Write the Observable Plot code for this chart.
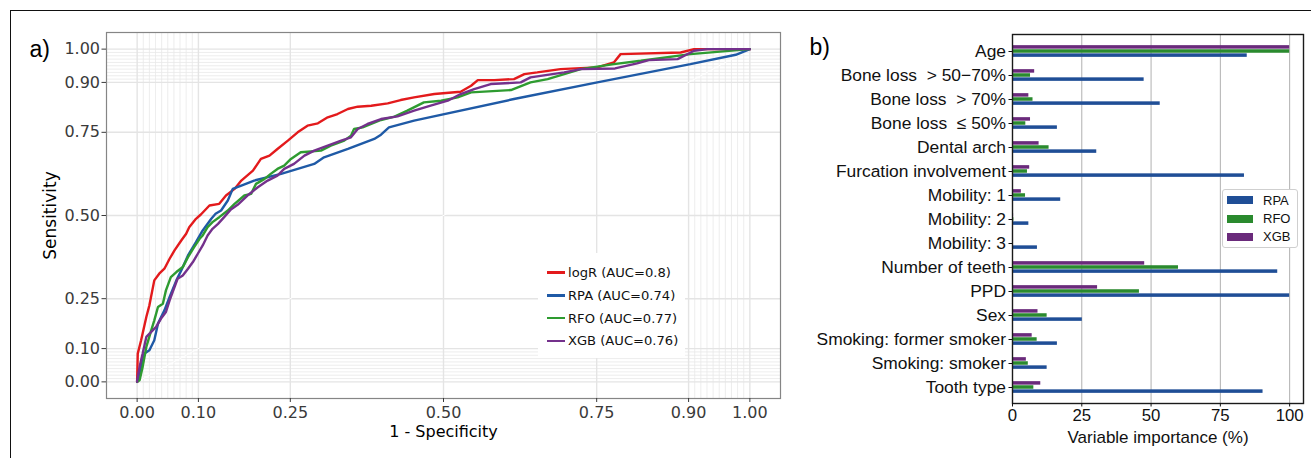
<!DOCTYPE html>
<html>
<head>
<meta charset="utf-8">
<script src="https://cdn.jsdelivr.net/npm/d3@7"></script>
<script src="https://cdn.jsdelivr.net/npm/@observablehq/plot@0.6"></script>
<style>
  body { margin: 0; background: #fff; }
  #wrap { position: relative; width: 1311px; height: 458px; overflow: hidden; background: #fff; }
  #border { position: absolute; left: 10px; top: 10px; width: 1320px; height: 470px; z-index: 5; pointer-events: none;
            border-top: 1.5px solid #111; border-left: 1.5px solid #111; }
  .panel { position: absolute; top: 0; }
  #pa { left: 0; }
  #pb { left: 790px; }
  .lega { position: absolute; left: 538px; top: 253px; width: 147px; height: 105px; background: #fff;
          font-family: 'DejaVu Sans', sans-serif; font-size: 13.1px; color: #111; }
  .lega .row { position: absolute; left: 9px; height: 20px; display: flex; align-items: center; }
  .lega .sw { width: 18px; height: 2.5px; margin-right: 3px; }
  .legb { position: absolute; left: 1222px; top: 189px; width: 74px; height: 57px; background: #fff;
          border: 1px solid #cfcfcf; border-radius: 3px;
          font-family: 'Liberation Sans', Arial, sans-serif; font-size: 13px; color: #111; }
  .legb .row { position: absolute; left: 4px; height: 16px; display: flex; align-items: center; }
  .legb .sw { width: 26px; height: 8px; margin-right: 10px; }
</style>
</head>
<body>
<div id="wrap">
  <div id="border"></div>
  <div id="pa" class="panel"></div>
  <div id="pb" class="panel"></div>
  <div class="lega" id="lega"></div>
  <div class="legb" id="legb"></div>
</div>
<script>
// ---------- Panel a: ROC curves (fpr = 1 - specificity, tpr = sensitivity) ----------
const rocModels = ["logR", "RPA", "RFO", "XGB"];
const rocLabels = ["logR (AUC=0.8)", "RPA (AUC=0.74)", "RFO (AUC=0.77)", "XGB (AUC=0.76)"];
const rocColors = ["#E31A1C", "#1F5AA6", "#2E9B30", "#74318C"];

const rocLogR = [[0,0],[0.001,0.085],[0.0065,0.125],[0.015,0.195],[0.02,0.23],[0.028,0.305],[0.036,0.325],[0.0445,0.34],[0.053,0.37],[0.061,0.395],[0.072,0.425],[0.08,0.445],[0.085,0.465],[0.096,0.49],[0.104,0.503],[0.118,0.53],[0.134,0.535],[0.145,0.56],[0.159,0.58],[0.17,0.605],[0.189,0.635],[0.202,0.67],[0.216,0.68],[0.229,0.7],[0.246,0.725],[0.262,0.75],[0.278,0.77],[0.295,0.777],[0.311,0.795],[0.327,0.805],[0.344,0.82],[0.36,0.827],[0.382,0.83],[0.409,0.837],[0.43,0.847],[0.452,0.855],[0.485,0.865],[0.528,0.872],[0.545,0.89],[0.556,0.907],[0.583,0.907],[0.615,0.91],[0.632,0.925],[0.653,0.93],[0.691,0.94],[0.724,0.943],[0.751,0.945],[0.778,0.96],[0.789,0.985],[0.887,0.99],[0.909,1],[1,1]];
const rocRPA = [[0,0],[0.001,0.005],[0.012,0.085],[0.02,0.095],[0.028,0.125],[0.034,0.175],[0.0445,0.215],[0.053,0.255],[0.064,0.305],[0.072,0.335],[0.083,0.38],[0.096,0.42],[0.107,0.455],[0.121,0.49],[0.128,0.505],[0.137,0.515],[0.148,0.545],[0.156,0.58],[0.17,0.59],[0.191,0.605],[0.235,0.625],[0.289,0.655],[0.305,0.675],[0.344,0.7],[0.387,0.73],[0.398,0.743],[0.411,0.765],[0.452,0.785],[0.615,0.85],[0.751,0.9],[0.903,0.955],[0.977,0.983],[1,1]];
const rocRFO = [[0,0],[0.004,0.005],[0.009,0.045],[0.015,0.105],[0.023,0.155],[0.028,0.185],[0.034,0.225],[0.042,0.235],[0.047,0.275],[0.055,0.315],[0.064,0.33],[0.0745,0.345],[0.083,0.375],[0.093,0.405],[0.102,0.43],[0.107,0.44],[0.115,0.465],[0.123,0.48],[0.134,0.495],[0.148,0.515],[0.159,0.535],[0.175,0.56],[0.186,0.565],[0.194,0.595],[0.208,0.61],[0.218,0.625],[0.229,0.64],[0.24,0.65],[0.251,0.67],[0.267,0.69],[0.3,0.695],[0.316,0.71],[0.338,0.725],[0.349,0.74],[0.354,0.76],[0.368,0.765],[0.382,0.775],[0.398,0.787],[0.42,0.797],[0.441,0.815],[0.468,0.84],[0.496,0.845],[0.523,0.855],[0.545,0.87],[0.61,0.877],[0.642,0.9],[0.67,0.91],[0.724,0.94],[0.778,0.955],[0.822,0.965],[0.903,0.985],[1,1]];
const rocXGB = [[0,0],[0,0.005],[0.004,0.045],[0.009,0.085],[0.015,0.135],[0.023,0.15],[0.031,0.165],[0.039,0.19],[0.047,0.21],[0.053,0.245],[0.061,0.285],[0.066,0.31],[0.0745,0.32],[0.083,0.34],[0.091,0.36],[0.099,0.385],[0.107,0.41],[0.115,0.44],[0.123,0.46],[0.132,0.475],[0.142,0.495],[0.153,0.518],[0.164,0.532],[0.18,0.56],[0.197,0.585],[0.213,0.605],[0.229,0.62],[0.24,0.64],[0.256,0.655],[0.273,0.68],[0.289,0.695],[0.311,0.71],[0.333,0.725],[0.349,0.735],[0.36,0.76],[0.376,0.775],[0.398,0.79],[0.425,0.798],[0.452,0.815],[0.479,0.83],[0.507,0.845],[0.528,0.865],[0.55,0.88],[0.577,0.895],[0.626,0.9],[0.642,0.915],[0.697,0.93],[0.724,0.94],[0.78,0.942],[0.816,0.957],[0.835,0.967],[0.882,0.97],[0.909,0.995],[0.931,1],[1,1]];

const rocTicks = [0, 0.1, 0.25, 0.5, 0.75, 0.9, 1];
const rocMinorGrid = [0.01,0.02,0.03,0.04,0.05,0.06,0.07,0.08,0.09,0.91,0.92,0.93,0.94,0.95,0.96,0.97,0.98,0.99];
const diagonal = [[0,0],[1,1]];

// ---------- Panel b: variable importance ----------
const categories = ["Age","Bone loss\u00A0 > 50\u221270%","Bone loss\u00A0 > 70%","Bone loss\u00A0 \u2264 50%","Dental arch","Furcation involvement","Mobility: 1","Mobility: 2","Mobility: 3","Number of teeth","PPD","Sex","Smoking: former smoker","Smoking: smoker","Tooth type"];
const impRPA = [84.7, 47.5, 53.3, 16.2, 30.4, 83.7, 17.4, 5.9, 9.0, 95.7, 100, 25.2, 16.2, 12.5, 90.4];
const impRFO = [100, 6.5, 7.4, 4.8, 13.2, 5.4, 4.7, 0.5, 0.2, 59.9, 45.8, 12.5, 8.9, 5.7, 7.7];
const impXGB = [100, 8.0, 5.9, 6.5, 9.6, 6.2, 3.2, 0.4, 0.1, 47.7, 30.7, 9.2, 7.1, 5.0, 10.2];
const impModels = ["RPA", "RFO", "XGB"];
const impColors = ["#1F4E96", "#2A8A2E", "#6A2A7B"];
const impTicks = [0, 25, 50, 75, 100];

// ---- build tables ----
const rocSeries = {logR: rocLogR, RPA: rocRPA, RFO: rocRFO, XGB: rocXGB};
const rocData = rocModels.flatMap(m => rocSeries[m].map(([f, t]) => ({model: m, fpr: f, tpr: t})));
const impData = categories.map((c, i) => ({category: c, RPA: impRPA[i], RFO: impRFO[i], XGB: impXGB[i]}));

const plotA = Plot.plot({
  width: 790, height: 458,
  marginLeft: 106, marginRight: 10, marginTop: 32, marginBottom: 60,
  x: {domain: [-0.05, 1.05]},
  y: {domain: [-0.05, 1.05]},
  color: {domain: rocModels, range: rocColors},
  style: {fontFamily: "'DejaVu Sans', sans-serif", fontSize: "16px", color: "#3a3a3a", background: "transparent", overflow: "visible"},
  marks: [
    Plot.ruleX(rocMinorGrid, {stroke: "#e9e9e9", strokeWidth: 0.8}),
    Plot.ruleY(rocMinorGrid, {stroke: "#e9e9e9", strokeWidth: 0.8}),
    Plot.ruleX(rocTicks, {stroke: "#e4e4e4", strokeWidth: 1.4}),
    Plot.ruleY(rocTicks, {stroke: "#e4e4e4", strokeWidth: 1.4}),
    Plot.line(diagonal, {x: d => d[0], y: d => d[1], stroke: "#fff", strokeWidth: 1}),
    Plot.line(rocData, {x: "fpr", y: "tpr", z: "model", stroke: "model", strokeWidth: 2.4, strokeLinejoin: "miter"}),
    Plot.frame({stroke: "#858585", strokeWidth: 1.2}),
    Plot.axisX({ticks: rocTicks, tickFormat: d3.format(".2f"), tickSize: 4, tickPadding: 4, label: null}),
    Plot.axisY({ticks: rocTicks, tickFormat: d3.format(".2f"), tickSize: 4.5, tickPadding: 2, label: null}),
    Plot.text(["1 - Specificity"], {text: d => d, frameAnchor: "bottom", lineAnchor: "middle", dy: 33, fontSize: 16, fill: "#000"}),
    Plot.text(["Sensitivity"], {text: d => d, frameAnchor: "left", textAnchor: "middle", lineAnchor: "middle", dx: -56, rotate: -90, fontSize: 17, fill: "#000"}),
    Plot.text(["a)"], {text: d => d, frameAnchor: "top-left", dx: -77, dy: 17, textAnchor: "start", lineAnchor: "middle", fontSize: 23, fill: "#000", fontFamily: "'Liberation Sans', Arial, sans-serif"})
  ]
});
document.getElementById("pa").appendChild(plotA);

const plotB = Plot.plot({
  width: 521, height: 458,
  marginLeft: 222, marginRight: 8, marginTop: 34, marginBottom: 55,
  x: {domain: [0, 105]},
  y: {domain: categories, padding: 0},
  style: {fontFamily: "'Liberation Sans', Arial, sans-serif", fontSize: "17.4px", color: "#111", background: "transparent", overflow: "visible"},
  marks: [
    Plot.ruleX(impTicks.slice(1), {stroke: "#b0b0b0", strokeWidth: 1}),
    Plot.barX(impData, {x: "XGB", y: "category", fill: impColors[2], insetTop: 6.15, insetBottom: 14.34}),
    Plot.barX(impData, {x: "RFO", y: "category", fill: impColors[1], insetTop: 10.24, insetBottom: 10.24}),
    Plot.barX(impData, {x: "RPA", y: "category", fill: impColors[0], insetTop: 14.34, insetBottom: 6.15}),
    Plot.frame({stroke: "#1a1a1a", strokeWidth: 1.4}),
    Plot.axisY({tickSize: 3.5, tickPadding: 3, label: null, fontSize: 17.4}),
    Plot.axisX({ticks: impTicks, tickSize: 3.5, tickPadding: 2, label: null, fontSize: 16.8}),
    Plot.text(["Variable importance (%)"], {text: d => d, frameAnchor: "bottom", lineAnchor: "middle", dy: 34, fontSize: 17, fill: "#111"}),
    Plot.text(["b)"], {text: d => d, frameAnchor: "top-left", dx: -203, dy: 13, textAnchor: "start", lineAnchor: "middle", fontSize: 23, fill: "#000"})
  ]
});
document.getElementById("pb").appendChild(plotB);

// ---------- legends ----------
const lega = document.getElementById("lega");
rocModels.forEach((m, i) => {
  const row = document.createElement("div");
  row.className = "row";
  row.style.top = (9.7 + i * 22.7) + "px";
  row.innerHTML = `<span class="sw" style="background:${rocColors[i]}"></span><span>${rocLabels[i]}</span>`;
  lega.appendChild(row);
});
const legb = document.getElementById("legb");
impModels.forEach((m, i) => {
  const row = document.createElement("div");
  row.className = "row";
  row.style.top = (2.3 + i * 18.2) + "px";
  row.innerHTML = `<span class="sw" style="background:${impColors[i]}"></span><span>${m}</span>`;
  legb.appendChild(row);
});
</script>
</body>
</html>
